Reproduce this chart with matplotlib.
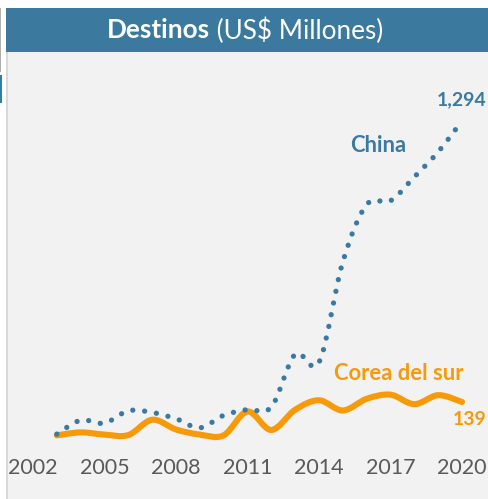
import matplotlib
matplotlib.use("Agg")
import matplotlib.pyplot as plt
from matplotlib.path import Path
from matplotlib.patches import PathPatch, Rectangle
import numpy as np

# ---------------- data ----------------
years = [2003, 2004, 2005, 2006, 2007, 2008, 2009, 2010, 2011,
         2012, 2013, 2014, 2015, 2016, 2017, 2018, 2019, 2020]
china = [7, 64, 52, 103, 96, 70, 33, 84, 108,
         118, 335, 302, 715, 950, 966, 1064, 1167, 1294]
korea = [2, 14, 5, 3, 66, 26, 5, 2, 100,
         24, 107, 146, 104, 152, 169, 130, 167, 139]
tick_years = [2002, 2005, 2008, 2011, 2014, 2017, 2020]
tick_labels = ["2002", "2005", "2008", "2011", "2014", "2017", "2020"]
title_bold = "Destinos"
title_rest = " (US$ Millones)"
china_name = "China"
korea_name = "Corea del sur"

# ---------------- style ----------------
FONT = "Lato"
BLUE = "#3A7AA2"
ORANGE = "#F79A0A"
BAR = "#3B7A9E"
BG = "#F2F2F2"
W, H = 489, 499

fig = plt.figure(figsize=(W / 100, H / 100), dpi=100)
fig.patch.set_facecolor("white")


def fx(px):
    return px / W


def fy(py):
    return 1 - py / H


# background panel and title bar
fig.patches.append(Rectangle((fx(6), 0), fx(489) - fx(6), fy(52), transform=fig.transFigure,
                             facecolor=BG, edgecolor="none", zorder=0))
fig.patches.append(Rectangle((fx(6), fy(52)), fx(489) - fx(6), fy(8) - fy(52), transform=fig.transFigure,
                             facecolor=BAR, edgecolor="none", zorder=1))
fig.patches.append(Rectangle((fx(6), 0), fx(2.2), fy(52), transform=fig.transFigure,
                             facecolor="#D9D9D9", edgecolor="none", zorder=1))
fig.patches.append(Rectangle((0, fy(72)), fx(1.5), fy(8) - fy(72), transform=fig.transFigure,
                             facecolor="#B0B0B0", edgecolor="none", zorder=1))
fig.patches.append(Rectangle((0, fy(103)), fx(1.8), fy(75) - fy(103), transform=fig.transFigure,
                             facecolor="#2F7FA8", edgecolor="none", zorder=1))

# axes: plot area
ax_left, ax_right, ax_top, ax_bottom = 6, 489, 52, 450
ax = fig.add_axes([fx(ax_left), fy(ax_bottom), fx(ax_right) - fx(ax_left), fy(ax_top) - fy(ax_bottom)])
ax.set_zorder(5)
ax.set_facecolor("none")
ppy = 23.83  # pixels per year
x0px = 33    # pixel of 2002
ax.set_xlim(2002 - (x0px - ax_left) / ppy, 2020 + (ax_right - 462) / ppy)
vpp = 4.11   # value per pixel
zero_px = 435.8
ax.set_ylim(-(ax_bottom - zero_px) * vpp, (zero_px - ax_top) * vpp)
for s in ax.spines.values():
    s.set_visible(False)
ax.set_yticks([])
ax.set_xticks(tick_years)
ax.set_xticklabels(tick_labels, fontfamily=FONT, fontsize=15.5, color="#595959")
ax.tick_params(axis="x", length=0, pad=6)


def smooth_path(xs, ys):
    xs = np.asarray(xs, float)
    ys = np.asarray(ys, float)
    n = len(xs)
    verts = [(xs[0], ys[0])]
    codes = [Path.MOVETO]
    for i in range(n - 1):
        xm1, ym1 = (xs[i - 1], ys[i - 1]) if i > 0 else (xs[i], ys[i])
        xp2, yp2 = (xs[i + 2], ys[i + 2]) if i + 2 < n else (xs[i + 1], ys[i + 1])
        c1 = (xs[i] + (xs[i + 1] - xm1) / 6, ys[i] + (ys[i + 1] - ym1) / 6)
        c2 = (xs[i + 1] - (xp2 - xs[i]) / 6, ys[i + 1] - (yp2 - ys[i]) / 6)
        verts += [c1, c2, (xs[i + 1], ys[i + 1])]
        codes += [Path.CURVE4] * 3
    return Path(verts, codes)


ax.add_patch(PathPatch(smooth_path(years, korea), facecolor="none", edgecolor=ORANGE,
                       linewidth=4.4, capstyle="round", joinstyle="round", zorder=3))
ax.add_patch(PathPatch(smooth_path(years, china), facecolor="none", edgecolor=BLUE,
                       linewidth=3.8, linestyle=(0, (0.01, 2.25)), capstyle="round", zorder=4))

# labels
ax.text(2002 + (378.5 - x0px) / ppy, (zero_px - 145) * vpp, china_name, color=BLUE,
        fontfamily=FONT, fontweight="bold", fontsize=15.8, ha="center", va="center")
ax.text(2002 + (399 - x0px) / ppy, (zero_px - 373) * vpp, korea_name, color=ORANGE,
        fontfamily=FONT, fontweight="bold", fontsize=15.8, ha="center", va="center")
ax.annotate(f"{china[-1]:,}", xy=(years[-1], china[-1]), xytext=(25 * 0.72, 21 * 0.72),
            textcoords="offset points", color=BLUE, fontfamily=FONT, fontweight="bold",
            fontsize=14, ha="right", va="center", annotation_clip=False)
ax.annotate(f"{korea[-1]:,}", xy=(years[-1], korea[-1]), xytext=(-9 * 0.72, -18 * 0.72),
            textcoords="offset points", color=ORANGE, fontfamily=FONT, fontweight="bold",
            fontsize=14, ha="left", va="center", annotation_clip=False)

# title with mixed weights
t1 = fig.text(0, fy(30.5), title_bold, color="white", fontfamily=FONT, fontweight="bold",
              fontsize=18.8, ha="left", va="center")
t2 = fig.text(0, fy(30.5), title_rest, color="white", fontfamily=FONT, fontweight="normal",
              fontsize=18.8, ha="left", va="center")
fig.canvas.draw()
r = fig.canvas.get_renderer()
w1 = t1.get_window_extent(r).width
w2 = t2.get_window_extent(r).width
start = 245.5 - (w1 + w2) / 2
t1.set_x(fx(start))
t2.set_x(fx(start + w1))

fig.savefig("out.png", dpi=100)
